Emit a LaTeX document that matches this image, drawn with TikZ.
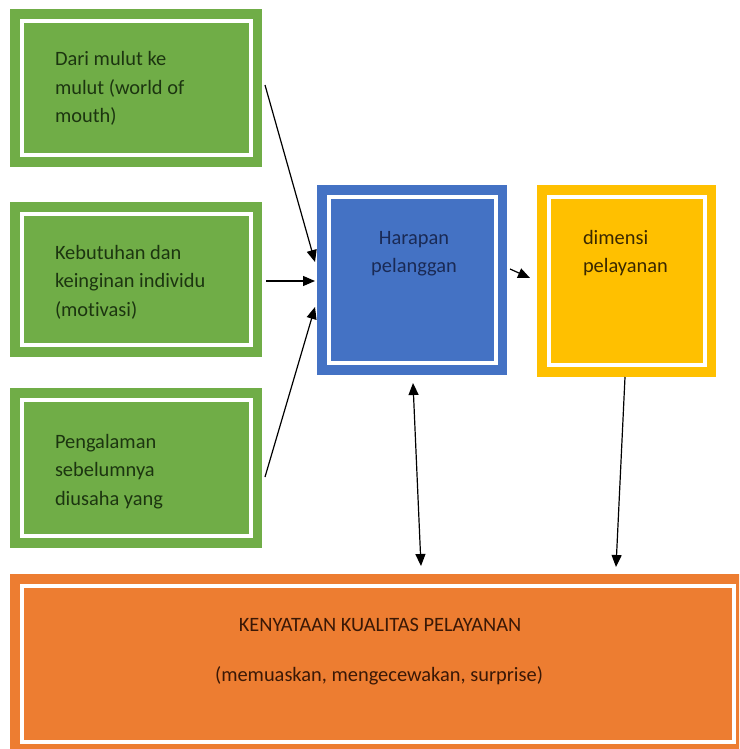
\documentclass[tikz,border=0pt]{standalone}
\usepackage{fontspec}
\setmainfont[Ligatures={NoCommon}]{Carlito}
\usetikzlibrary{arrows.meta}
\definecolor{cgreen}{HTML}{70AD47}
\definecolor{cblue}{HTML}{4472C4}
\definecolor{cyellow}{HTML}{FFC000}
\definecolor{corange}{HTML}{ED7D31}
\definecolor{tgreen}{HTML}{1C3510}
\definecolor{tblue}{HTML}{1A2A55}
\definecolor{tyellow}{HTML}{3A2800}
\definecolor{torange}{HTML}{3A1806}
\tikzset{
  boxnode/.style={inner sep=0pt, outer sep=0pt, draw=none},
  inring/.style={draw=white, line width=4pt},
  txt/.style={inner sep=0pt, outer sep=0pt, font=\fontsize{20.4pt}{28.5pt}\selectfont},
  arr/.style={line width=1.2pt, -{Triangle[length=12pt,width=10pt]}},
  darr/.style={line width=1.2pt, {Triangle[length=12pt,width=10pt]}-{Triangle[length=12pt,width=10pt]}}
}
\begin{document}
\begin{tikzpicture}[x=1pt,y=-1pt]
\useasboundingbox (0,0) rectangle (739,749);
\begin{scope}
\clip (0,0) rectangle (739,749);
\node[boxnode, fill=cgreen, minimum width=252pt, minimum height=158pt] (g1) at (136,88) {};
\node[boxnode, fill=cgreen, minimum width=252pt, minimum height=155pt] (g2) at (136,279.5) {};
\node[boxnode, fill=cgreen, minimum width=252pt, minimum height=160pt] (g3) at (136,468) {};
\node[boxnode, fill=cblue, minimum width=190pt, minimum height=190pt] (hp) at (412,280) {};
\node[boxnode, fill=cyellow, minimum width=179pt, minimum height=192pt] (dp) at (626.5,281) {};
\node[boxnode, fill=corange, minimum width=735pt, minimum height=180pt] (kk) at (377.5,664) {};
\foreach \n in {g1,g2,g3,hp,dp,kk}{
  \draw[inring] ([shift={(11.5pt,-12pt)}]\n.north west) rectangle ([shift={(-11.5pt,12pt)}]\n.south east);
}
\end{scope}
% texts (anchor base = baseline of last line)
\node[txt, text=tgreen, align=left, anchor=base west] (t1) at (55,123) {Dari mulut ke\\mulut (world of\\mouth)};
\node[txt, text=tgreen, align=left, anchor=base west] (t2) at (55,316) {Kebutuhan dan\\keinginan individu\\(motivasi)};
\node[txt, text=tgreen, align=left, anchor=base west] (t3) at (55,505) {Pengalaman\\sebelumnya\\diusaha yang};
\node[txt, text=tblue, align=center, anchor=base] (t4) at (414,272.5) {Harapan\\pelanggan};
\node[txt, text=tyellow, align=left, anchor=base west] (t5) at (583,272.5) {dimensi\\pelayanan};
\node[txt, text=torange, anchor=base] (t6) at (380,631) {KENYATAAN KUALITAS PELAYANAN};
\node[txt, text=torange, anchor=base] (t7) at (379,681) {(memuaskan, mengecewakan, surprise)};
% connectors
\draw[arr] ([shift={(3pt,3pt)}]g1.east) -- ([shift={(-2pt,18pt)}]hp.west);
\draw[arr] ([shift={(4pt,-1.5pt)}]g2.east) -- ([shift={(-2pt,-1pt)}]hp.west);
\draw[arr] ([shift={(3pt,-9pt)}]g3.east) -- ([shift={(-2pt,-27pt)}]hp.west);
\draw[arr] ([shift={(3pt,11pt)}]hp.east) -- ([shift={(-7pt,3pt)}]dp.west);
\draw[darr] ([shift={(1pt,-8pt)}]hp.south) -- ([shift={(43.5pt,8pt)}]kk.north);
\draw[arr] ([shift={(-1.5pt,0pt)}]dp.south) -- ([shift={(238.5pt,7pt)}]kk.north);
\end{tikzpicture}
\end{document}
